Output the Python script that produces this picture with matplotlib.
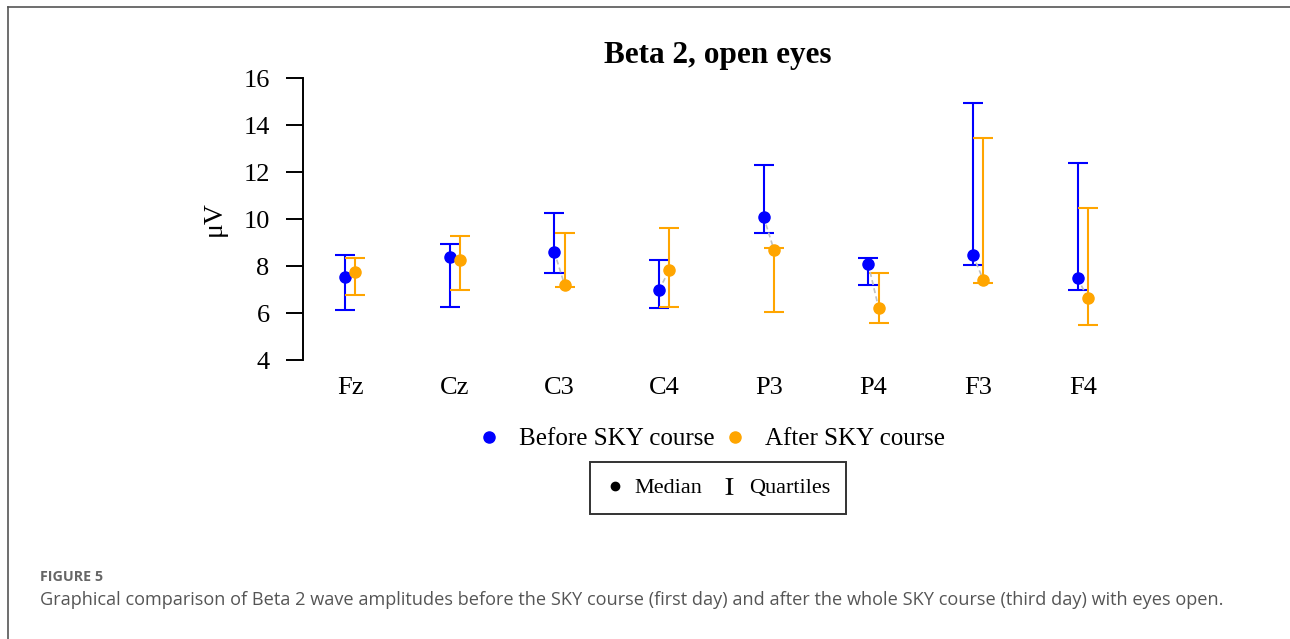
import numpy as np
import matplotlib
matplotlib.use("Agg")
import matplotlib.pyplot as plt
from matplotlib.lines import Line2D

plt.rcParams['font.family'] = ['Liberation Serif', 'DejaVu Serif']
plt.rcParams['mathtext.fontset'] = 'stix'

channels = ["Fz", "Cz", "C3", "C4", "P3", "P4", "F3", "F4"]

before_median = [7.55, 8.40, 8.61, 6.98, 10.10, 8.09, 8.47, 7.48]
before_q1 = [6.13, 6.27, 7.71, 6.20, 9.39, 7.19, 8.04, 6.98]
before_q3 = [8.48, 8.92, 10.24, 8.26, 12.31, 8.33, 14.95, 12.37]

after_median = [7.76, 8.26, 7.19, 7.83, 8.68, 6.20, 7.40, 6.62]
after_q1 = [6.77, 6.98, 7.12, 6.27, 6.06, 5.56, 7.26, 5.49]
after_q3 = [8.33, 9.26, 9.39, 9.60, 8.75, 7.69, 13.45, 10.47]

BLUE = "#0000ff"
ORANGE = "#ffa500"

fig = plt.figure(figsize=(12.9, 6.39), dpi=100)
ax = fig.add_axes([0.2349, 0.4182, 0.641, 0.4781])

x = np.arange(len(channels))
off = 0.05

def draw(xs, med, q1, q3, col):
    med = np.array(med)
    yerr = [med - np.array(q1), np.array(q3) - med]
    ax.errorbar(xs, med, yerr=yerr, fmt='none', ecolor=col, elinewidth=1.5,
                capsize=7, capthick=1.5, zorder=2)

draw(x - off, before_median, before_q1, before_q3, BLUE)
draw(x + off, after_median, after_q1, after_q3, ORANGE)

for i in range(len(channels)):
    ax.plot([x[i] - off, x[i] + off], [before_median[i], after_median[i]],
            color="#c0c0c0", linestyle=(0, (3, 2)), linewidth=1.2, zorder=3)

ax.plot(x - off, before_median, 'o', color=BLUE, markersize=8, zorder=4)
ax.plot(x + off, after_median, 'o', color=ORANGE, markersize=8, zorder=4)

ax.set_xlim(-0.45, 7.45)
ax.set_ylim(3.5, 16.5)
ax.set_yticks(range(4, 17, 2))
ax.set_xticks(x)
ax.set_xticklabels(channels)
ax.tick_params(axis='x', length=0, pad=4, labelsize=19)
ax.tick_params(axis='y', length=12, width=1.4, pad=12, labelsize=19)
for s in ['top', 'right', 'bottom']:
    ax.spines[s].set_visible(False)
ax.spines['left'].set_bounds(4, 16)
ax.spines['left'].set_linewidth(1.4)
ax.set_ylabel("μV", fontsize=20, labelpad=12)

fig.text(718 / 1290, 1 - 55 / 639, "Beta 2, open eyes", ha='center', va='center',
         fontsize=22.5, fontweight='bold')

h1 = [Line2D([], [], marker='o', color=BLUE, linestyle='none', markersize=8),
      Line2D([], [], marker='o', color=ORANGE, linestyle='none', markersize=8)]
fig.legend(h1, ["Before SKY course", "After SKY course"], loc='center',
           bbox_to_anchor=(711 / 1290, 1 - 439 / 639), ncol=2, frameon=False,
           fontsize=18, handlelength=1.0, handletextpad=0.7, columnspacing=0.3)

h2 = [Line2D([], [], marker='o', color='black', linestyle='none', markersize=6),
      Line2D([], [], marker=r'$\mathrm{I}$', color='black', linestyle='none',
             markersize=12, markeredgewidth=0.2)]
leg2 = fig.legend(h2, ["Median", "Quartiles"], loc='center',
                  bbox_to_anchor=(718 / 1290, 1 - 488 / 639), ncol=2, frameon=True,
                  fancybox=False, edgecolor='black', fontsize=16, handlelength=0.8,
                  handletextpad=0.5, columnspacing=0.8, borderpad=0.7, borderaxespad=0)
leg2.get_frame().set_linewidth(1.4)

# outer frame of the figure panel
fig.add_artist(Line2D([8 / 1290, 8 / 1290], [0, 1 - 7 / 639], color='#555555', linewidth=1.2))
fig.add_artist(Line2D([8 / 1290, 1], [1 - 7 / 639, 1 - 7 / 639], color='#555555', linewidth=1.2))

fig.text(40 / 1290, 1 - 577 / 639, "FIGURE 5", fontsize=10.3, fontweight='bold',
         color='#666666', family=['Open Sans', 'DejaVu Sans'], va='center')
fig.text(40 / 1290, 1 - 600 / 639,
         "Graphical comparison of Beta 2 wave amplitudes before the SKY course (first day) "
         "and after the whole SKY course (third day) with eyes open.",
         fontsize=13.05, color='#555555', family=['Open Sans', 'DejaVu Sans'], va='center')

fig.savefig("out.png", dpi=100)
